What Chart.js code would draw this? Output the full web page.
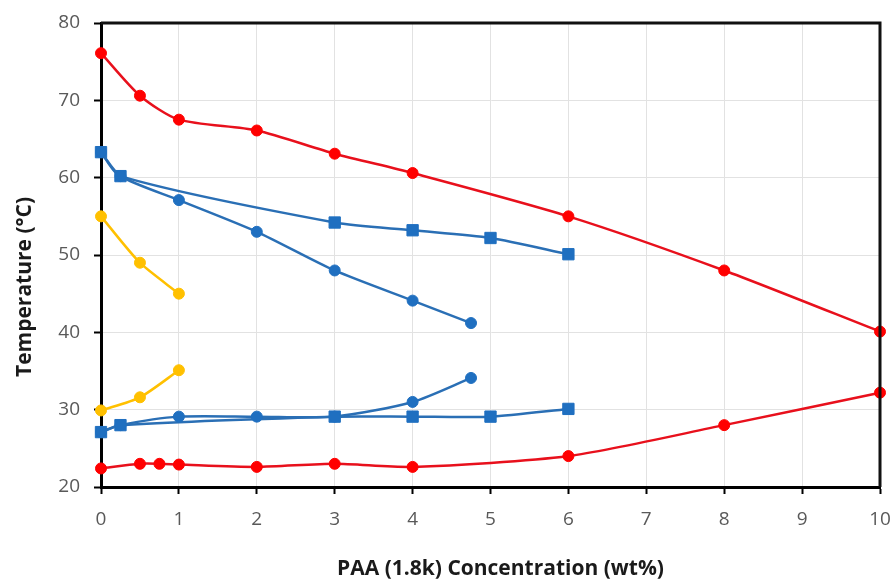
<!DOCTYPE html>
<html>
<head>
<meta charset="utf-8">
<script src="https://cdn.jsdelivr.net/npm/chart.js@4/dist/chart.umd.min.js"></script>
<style>
  html, body { margin: 0; padding: 0; background: #fff; }
  #wrap { width: 896px; height: 584px; position: relative; }
</style>
</head>
<body>
<div id="wrap"><canvas id="c" width="896" height="584"></canvas></div>
<script>
// PAA (1.8k) concentration, wt%
const redUpperX = [0, 0.5, 1, 2, 3, 4, 6, 8, 10];
const redUpperY = [76.1, 70.6, 67.5, 66.1, 63.1, 60.6, 55.0, 48.0, 40.1];
const redLowerX = [0, 0.5, 0.75, 1, 2, 3, 4, 6, 8, 10];
const redLowerY = [22.4, 23.0, 23.0, 22.9, 22.6, 23.0, 22.6, 24.0, 28.0, 32.2];

const blueSqUpperX = [0, 0.25, 3, 4, 5, 6];
const blueSqUpperY = [63.3, 60.2, 54.2, 53.2, 52.2, 50.1];
const blueCircUpperX = [0, 0.25, 1, 2, 3, 4, 4.75];
const blueCircUpperY = [63.3, 60.2, 57.1, 53.0, 48.0, 44.1, 41.2];

const blueSqLowerX = [0, 0.25, 3, 4, 5, 6];
const blueSqLowerY = [27.1, 28.0, 29.1, 29.1, 29.1, 30.1];
const blueCircLowerX = [0, 0.25, 1, 2, 3, 4, 4.75];
const blueCircLowerY = [27.1, 28.0, 29.1, 29.1, 29.1, 31.0, 34.1];

const yellowUpperX = [0, 0.5, 1];
const yellowUpperY = [55.0, 49.0, 45.0];
const yellowLowerX = [0, 0.5, 1];
const yellowLowerY = [29.9, 31.6, 35.1];

const xTicks = [0, 1, 2, 3, 4, 5, 6, 7, 8, 9, 10];
const yTicks = [20, 30, 40, 50, 60, 70, 80];

const xTitle = 'PAA (1.8k) Concentration (wt%)';
const yTitle = 'Temperature (°C)';

const RED = '#ff0000', RED_LINE = '#e8101c';
const BLUE = '#1f6fc0', BLUE_LINE = '#2a6fb5';
const YELLOW = '#ffc000';

function pts(xs, ys) { return xs.map((x, i) => ({ x: x, y: ys[i] })); }

function series(xs, ys, line, fill, style) {
  return {
    data: pts(xs, ys),
    showLine: true,
    borderColor: line,
    backgroundColor: fill,
    pointBackgroundColor: fill,
    pointBorderColor: fill,
    borderWidth: 2.5,
    pointStyle: style,
    pointRadius: style === 'rect' ? 8 : 5.5,
    pointBorderWidth: 1,
    tension: 0.25,
    clip: false
  };
}

// Frame on top/right and the two axis titles
const framePlugin = {
  id: 'frame',
  afterDraw(chart) {
    const { ctx, chartArea: a } = chart;
    ctx.save();
    ctx.strokeStyle = '#111';
    ctx.lineWidth = 3;
    ctx.beginPath();
    ctx.moveTo(a.left, a.top);
    ctx.lineTo(a.right, a.top);
    ctx.lineTo(a.right, a.bottom);
    ctx.stroke();

    ctx.fillStyle = '#1a1a1a';
    ctx.font = 'bold 21px "Open Sans", sans-serif';
    ctx.textAlign = 'center';
    ctx.textBaseline = 'middle';
    ctx.fillText(xTitle, (a.left + a.right) / 2 + 10, 569);

    ctx.translate(25, 287);
    ctx.rotate(-Math.PI / 2);
    ctx.fillText(yTitle, 0, 0);
    ctx.restore();
  }
};

const tickFont = { family: '"Open Sans", sans-serif', size: 19 };

new Chart(document.getElementById('c'), {
  type: 'scatter',
  data: {
    datasets: [
      series(yellowUpperX, yellowUpperY, YELLOW, YELLOW, 'circle'),
      series(yellowLowerX, yellowLowerY, YELLOW, YELLOW, 'circle'),
      series(blueCircUpperX, blueCircUpperY, BLUE_LINE, BLUE, 'circle'),
      series(blueCircLowerX, blueCircLowerY, BLUE_LINE, BLUE, 'circle'),
      series(blueSqUpperX, blueSqUpperY, BLUE_LINE, BLUE, 'rect'),
      series(blueSqLowerX, blueSqLowerY, BLUE_LINE, BLUE, 'rect'),
      series(redUpperX, redUpperY, RED_LINE, RED, 'circle'),
      series(redLowerX, redLowerY, RED_LINE, RED, 'circle')
    ]
  },
  options: {
    responsive: false,
    animation: false,
    layout: { padding: { left: 0, right: 16, top: 23, bottom: 0 } },
    plugins: { legend: { display: false }, tooltip: { enabled: false } },
    scales: {
      x: {
        type: 'linear',
        min: 0, max: 10,
        afterBuildTicks(scale) { scale.ticks = xTicks.map(v => ({ value: v })); },
        afterFit(scale) { scale.height = 97; scale.paddingLeft = 0; scale.paddingRight = 0; },
        grid: { color: '#e2e2e2', lineWidth: 1, tickColor: '#000', tickLength: 7, tickWidth: 2 },
        border: { color: '#000', width: 3 },
        ticks: { color: '#595959', font: tickFont, padding: 14, maxRotation: 0 }
      },
      y: {
        min: 20, max: 80,
        afterBuildTicks(scale) { scale.ticks = yTicks.map(v => ({ value: v })); },
        afterFit(scale) { scale.width = 101; scale.paddingTop = 0; scale.paddingBottom = 0; },
        grid: { color: '#e2e2e2', lineWidth: 1, tickColor: '#000', tickLength: 7, tickWidth: 2 },
        border: { color: '#000', width: 3 },
        ticks: { color: '#595959', font: tickFont, padding: 14 }
      }
    }
  },
  plugins: [framePlugin]
});
</script>
</body>
</html>
